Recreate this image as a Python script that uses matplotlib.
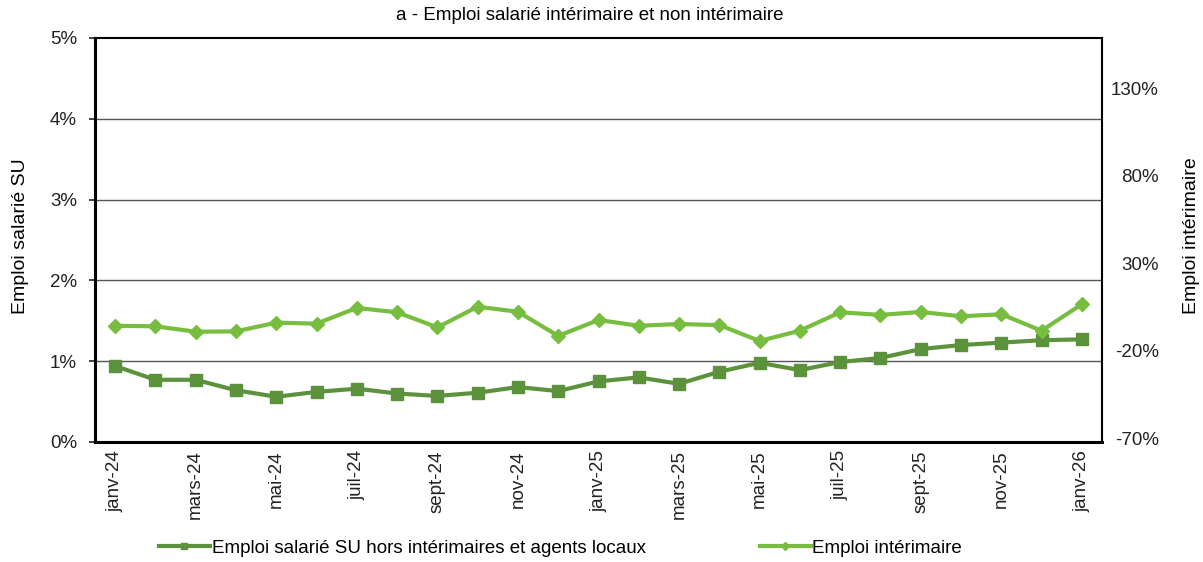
import matplotlib
matplotlib.use('Agg')
from matplotlib import pyplot as plt
from matplotlib.ticker import FuncFormatter

plt.rcParams['font.family'] = ['Liberation Sans', 'DejaVu Sans']

mois = ['janv-24', 'févr-24', 'mars-24', 'avr-24', 'mai-24', 'juin-24',
        'juil-24', 'août-24', 'sept-24', 'oct-24', 'nov-24', 'déc-24',
        'janv-25', 'févr-25', 'mars-25', 'avr-25', 'mai-25', 'juin-25',
        'juil-25', 'août-25', 'sept-25', 'oct-25', 'nov-25', 'déc-25',
        'janv-26']

# emploi salarié SU hors intérimaires (%), axe gauche
emploi_su = [0.94, 0.77, 0.77, 0.64, 0.56, 0.62, 0.66, 0.60, 0.57, 0.61,
             0.68, 0.63, 0.75, 0.80, 0.72, 0.87, 0.98, 0.89, 0.99, 1.04,
             1.15, 1.20, 1.23, 1.26, 1.27]

# emploi intérimaire (%), axe droit
emploi_interim = [-5.7, -6.0, -9.1, -8.9, -3.9, -4.5, 4.5, 2.0, -6.6, 5.2,
                  2.3, -11.5, -2.4, -5.7, -4.7, -5.3, -14.4, -8.5, 2.0, 0.5,
                  2.2, -0.3, 0.9, -8.5, 6.6]

y_gauche = [0, 1, 2, 3, 4, 5]
y_droite = [-70, -20, 30, 80, 130]

c_fonce = '#5C923C'
c_clair = '#77BD3F'
fs = 13.5

fig = plt.figure(figsize=(12.03, 5.62), dpi=100)
ax = fig.add_axes([95/1203, 1 - 442/562, 1007/1203, 404/562])
ax2 = ax.twinx()

x = list(range(len(mois)))

l1, = ax.plot(x, emploi_su, color=c_fonce, lw=3, marker='s', ms=9,
              label='Emploi salarié SU hors intérimaires et agents locaux', zorder=3)
l2, = ax2.plot(x, emploi_interim, color=c_clair, lw=3, marker='D', ms=7.5,
               label='Emploi intérimaire', zorder=3)

ax.set_xlim(-0.5, len(mois) - 0.5)
ax.set_ylim(0, 5)
ax2.set_ylim(-72.1, 158.7)

ax.set_yticks(y_gauche)
ax.yaxis.set_major_formatter(FuncFormatter(lambda v, p: '%d%%' % v))
ax2.set_yticks(y_droite)
ax2.yaxis.set_major_formatter(FuncFormatter(lambda v, p: '%d%%' % v))

ax.set_xticks(x[::2])
ax.set_xticklabels(mois[::2], rotation=90)

ax.tick_params(axis='y', length=4, width=1.2, labelsize=fs, colors='#222222', pad=9)
ax.tick_params(axis='x', length=0, labelsize=fs, colors='#222222', pad=6)
ax2.tick_params(axis='y', length=0, labelsize=fs, colors='#222222', pad=41)
for t in ax2.get_yticklabels():
    t.set_ha('right')

for v in y_gauche[1:-1]:
    ax.axhline(v, color='#555555', lw=1, zorder=1)

for s in ['left', 'bottom']:
    ax.spines[s].set_linewidth(2.2)
ax.spines['top'].set_linewidth(1.5)
for s in ax2.spines.values():
    s.set_visible(False)
ax.spines['right'].set_linewidth(1.5)

ax.set_ylabel('Emploi salarié SU', fontsize=14)
ax.yaxis.set_label_coords(-0.0655, 0.51)
ax2.set_ylabel('Emploi intérimaire', fontsize=14)
ax2.yaxis.set_label_coords(1.0804, 0.51)

fig.text(0.4905, 1 - 15/562, 'a - Emploi salarié intérimaire et non intérimaire',
         ha='center', va='center', fontsize=fs)

leg = fig.legend([l1, l2], [l1.get_label(), l2.get_label()], loc='center',
                 bbox_to_anchor=(0.466, 1 - 548/562), ncol=2, frameon=False,
                 fontsize=fs, columnspacing=6.1, handlelength=2.7, handletextpad=0.1,
                 markerscale=0.5)

plt.savefig('out.png', dpi=100)
